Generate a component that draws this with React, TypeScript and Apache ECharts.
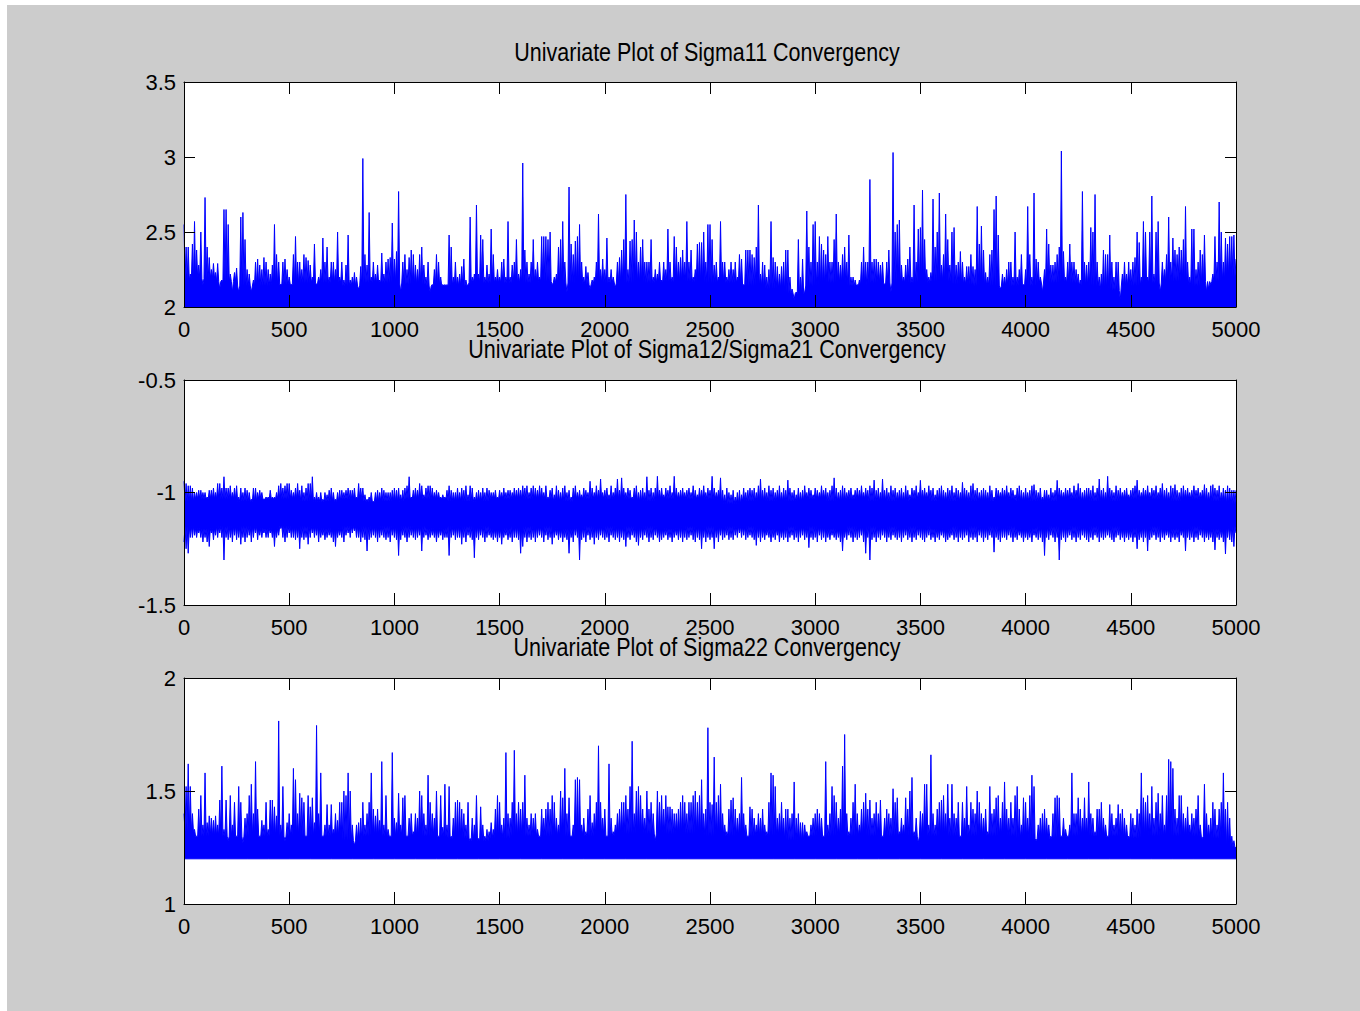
import React, { useEffect, useRef } from "react";
import * as echarts from "echarts";

// ---------------- data ----------------
const ITER_MAX = 5000;
const X_TICK_STEP = 500;
const Y_TICK_STEP = 0.5;

const titles = [
  "Univariate Plot of Sigma11 Convergency",
  "Univariate Plot of Sigma12/Sigma21 Convergency",
  "Univariate Plot of Sigma22 Convergency",
];
const yRange11 = [2, 3.5];
const yRange12 = [-1.5, -0.5];
const yRange22 = [1, 2];

// Sigma11: spike tops, one every 10 iterations (0..5000)
const sigma11Peaks = [
  2.55, 2.4, 2.4, 2.22, 2.42, 2.57, 2.38, 2.28, 2.5, 2.15,
  2.73, 2.4, 2.33, 2.25, 2.29, 2.23, 2.29, 2.12, 2.18, 2.65,
  2.65, 2.55, 2.22, 2.1, 2.23, 2.26, 2.1, 2.6, 2.63, 2.45,
  2.25, 2.22, 2.1, 2.18, 2.3, 2.32, 2.28, 2.25, 2.33, 2.3,
  2.25, 2.22, 2.28, 2.55, 2.35, 2.3, 2.15, 2.3, 2.32, 2.25,
  2.2, 2.15, 2.35, 2.47, 2.3, 2.3, 2.25, 2.35, 2.33, 2.31,
  2.28, 2.2, 2.42, 2.15, 2.2, 2.25, 2.46, 2.3, 2.4, 2.2,
  2.3, 2.3, 2.25, 2.5, 2.2, 2.3, 2.18, 2.28, 2.48, 2.18,
  2.2, 2.23, 2.2, 2.12, 2.27, 2.99, 2.35, 2.28, 2.63, 2.2,
  2.3, 2.22, 2.28, 2.18, 2.36, 2.22, 2.3, 2.32, 2.33, 2.56,
  2.32, 2.37, 2.77, 2.1, 2.3, 2.35, 2.25, 2.33, 2.38, 2.35,
  2.28, 2.25, 2.35, 2.4, 2.28, 2.2, 2.3, 2.1, 2.15, 2.25,
  2.35, 2.3, 2.2, 2.15, 2.15, 2.15, 2.48, 2.4, 2.2, 2.3,
  2.2, 2.22, 2.27, 2.32, 2.18, 2.15, 2.6, 2.2, 2.22, 2.68,
  2.22, 2.48, 2.45, 2.2, 2.28, 2.22, 2.52, 2.35, 2.2, 2.25,
  2.2, 2.3, 2.32, 2.2, 2.57, 2.2, 2.28, 2.3, 2.45, 2.22,
  2.25, 2.96, 2.38, 2.3, 2.22, 2.3, 2.45, 2.25, 2.3, 2.2,
  2.47, 2.47, 2.47, 2.45, 2.5, 2.15, 2.2, 2.22, 2.4, 2.45,
  2.57, 2.3, 2.1, 2.8, 2.42, 2.35, 2.44, 2.47, 2.55, 2.3,
  2.2, 2.27, 2.23, 2.12, 2.18, 2.2, 2.3, 2.62, 2.25, 2.32,
  2.25, 2.46, 2.2, 2.25, 2.2, 2.13, 2.3, 2.33, 2.38, 2.45,
  2.75, 2.25, 2.44, 2.45, 2.58, 2.5, 2.3, 2.4, 2.45, 2.3,
  2.3, 2.3, 2.45, 2.2, 2.25, 2.22, 2.3, 2.18, 2.3, 2.25,
  2.52, 2.3, 2.2, 2.47, 2.4, 2.3, 2.33, 2.38, 2.3, 2.57,
  2.3, 2.38, 2.2, 2.25, 2.42, 2.43, 2.43, 2.5, 2.3, 2.55,
  2.55, 2.45, 2.28, 2.3, 2.2, 2.57, 2.3, 2.3, 2.2, 2.25,
  2.3, 2.25, 2.3, 2.2, 2.35, 2.32, 2.15, 2.38, 2.38, 2.38,
  2.35, 2.33, 2.4, 2.68, 2.22, 2.3, 2.28, 2.2, 2.25, 2.57,
  2.33, 2.3, 2.27, 2.22, 2.27, 2.3, 2.38, 2.38, 2.2, 2.12,
  2.05, 2.1, 2.45, 2.2, 2.32, 2.1, 2.64, 2.4, 2.3, 2.55,
  2.57, 2.3, 2.47, 2.42, 2.38, 2.35, 2.47, 2.3, 2.3, 2.45,
  2.62, 2.3, 2.28, 2.35, 2.4, 2.3, 2.48, 2.2, 2.2, 2.18,
  2.15, 2.18, 2.3, 2.4, 2.3, 2.3, 2.85, 2.3, 2.32, 2.32,
  2.3, 2.28, 2.3, 2.15, 2.3, 2.38, 2.1, 3.03, 2.5, 2.55,
  2.58, 2.28, 2.2, 2.28, 2.32, 2.4, 2.2, 2.68, 2.3, 2.52,
  2.53, 2.78, 2.45, 2.25, 2.2, 2.23, 2.72, 2.4, 2.5, 2.76,
  2.28, 2.35, 2.62, 2.45, 2.28, 2.5, 2.53, 2.28, 2.3, 2.37,
  2.3, 2.2, 2.27, 2.27, 2.35, 2.27, 2.25, 2.67, 2.42, 2.54,
  2.38, 2.23, 2.2, 2.35, 2.38, 2.65, 2.74, 2.48, 2.12, 2.22,
  2.2, 2.25, 2.3, 2.3, 2.2, 2.5, 2.2, 2.25, 2.35, 2.15,
  2.25, 2.67, 2.35, 2.2, 2.76, 2.32, 2.3, 2.2, 2.1, 2.25,
  2.52, 2.42, 2.28, 2.28, 2.3, 2.35, 2.4, 3.04, 2.37, 2.2,
  2.3, 2.42, 2.3, 2.3, 2.25, 2.22, 2.18, 2.77, 2.3, 2.28,
  2.3, 2.53, 2.5, 2.75, 2.3, 2.2, 2.22, 2.38, 2.35, 2.35,
  2.48, 2.3, 2.2, 2.3, 2.3, 2.05, 2.22, 2.3, 2.22, 2.3,
  2.25, 2.3, 2.33, 2.5, 2.43, 2.2, 2.57, 2.5, 2.2, 2.5,
  2.74, 2.22, 2.5, 2.57, 2.1, 2.3, 2.25, 2.35, 2.6, 2.3,
  2.46, 2.38, 2.35, 2.4, 2.38, 2.45, 2.67, 2.3, 2.2, 2.52,
  2.52, 2.25, 2.3, 2.38, 2.35, 2.48, 2.1, 2.12, 2.15, 2.22,
  2.47, 2.3, 2.7, 2.5, 2.3, 2.46, 2.42, 2.47, 2.47, 2.48,
  2.32,
];
// Sigma11: top of the dense (solid) band, one every 100 iterations
const sigma11Core = [
  2.18, 2.19, 2.17, 2.14, 2.14, 2.15, 2.16, 2.16, 2.14, 2.16,
  2.16, 2.15, 2.14, 2.14, 2.16, 2.16, 2.16, 2.17, 2.16, 2.15,
  2.16, 2.16, 2.16, 2.17, 2.17, 2.16, 2.16, 2.14, 2.12, 2.09,
  2.14, 2.16, 2.14, 2.16, 2.16, 2.16, 2.17, 2.15, 2.14, 2.14,
  2.14, 2.16, 2.16, 2.14, 2.11, 2.14, 2.16, 2.17, 2.14, 2.17,
  2.2,
];

// Sigma12/Sigma21: upper and lower spike extremes, one every 10 iterations
const sigma12Upper = [
  -0.95, -0.96, -0.97, -0.97, -0.98, -1.0, -1.0, -0.99, -0.99, -1.0,
  -1.0, -1.02, -0.99, -0.99, -0.98, -1.0, -0.96, -0.96, -0.98, -0.93,
  -0.98, -0.98, -0.97, -1.0, -0.98, -0.97, -1.02, -0.98, -1.0, -0.98,
  -0.99, -1.0, -1.03, -0.98, -0.98, -1.0, -0.99, -1.0, -1.03, -1.02,
  -1.02, -0.99, -1.02, -1.02, -1.0, -0.97, -0.96, -0.98, -0.97, -0.96,
  -0.96, -0.99, -1.0, -0.98, -0.96, -0.99, -0.97, -1.0, -0.98, -0.96,
  -0.96, -0.93, -1.02, -1.0, -1.02, -1.0, -1.03, -1.0, -1.01, -0.99,
  -0.98, -1.0, -1.03, -1.0, -0.99, -0.99, -1.0, -0.99, -0.98, -0.99,
  -0.99, -0.98, -1.02, -0.96, -0.98, -0.98, -1.01, -1.03, -1.02, -1.0,
  -1.04, -1.0, -0.99, -1.0, -0.98, -0.99, -1.0, -1.0, -1.0, -0.99,
  -0.98, -0.99, -0.98, -1.01, -0.99, -0.98, -0.97, -0.93, -1.02, -0.99,
  -0.98, -0.99, -0.96, -0.97, -1.01, -0.98, -0.97, -0.97, -0.98, -1.0,
  -0.99, -1.0, -1.02, -1.01, -1.02, -0.99, -0.97, -0.99, -1.0, -1.0,
  -0.98, -1.0, -0.98, -0.99, -0.97, -1.01, -0.97, -0.98, -1.02, -1.0,
  -0.99, -1.0, -0.98, -1.0, -0.98, -0.99, -1.0, -1.0, -0.99, -1.02,
  -0.99, -1.0, -0.98, -1.0, -0.99, -0.99, -1.0, -0.98, -0.99, -0.98,
  -0.99, -0.97, -0.98, -0.97, -1.0, -0.98, -0.97, -0.98, -0.99, -0.97,
  -0.98, -1.0, -0.97, -1.02, -0.99, -0.98, -1.01, -0.97, -0.99, -1.0,
  -0.98, -0.97, -1.0, -0.99, -1.02, -0.98, -0.97, -1.0, -0.99, -1.01,
  -0.98, -0.99, -1.0, -0.95, -0.98, -1.0, -0.97, -0.99, -0.94, -1.0,
  -0.99, -0.98, -1.01, -0.97, -1.0, -0.98, -0.94, -0.99, -0.935, -0.98,
  -1.0, -0.98, -0.99, -1.02, -0.98, -0.97, -1.0, -0.99, -0.98, -1.0,
  -0.93, -0.99, -0.98, -1.0, -0.98, -0.928, -0.99, -0.98, -1.01, -0.98,
  -0.99, -0.97, -1.0, -0.928, -0.98, -1.0, -0.99, -0.98, -1.0, -0.99,
  -0.98, -1.0, -0.97, -0.99, -1.01, -0.98, -0.99, -0.97, -1.0, -0.98,
  -0.99, -0.928, -0.98, -1.0, -0.99, -0.935, -0.99, -1.01, -0.98, -1.0,
  -1.01, -0.99, -1.02, -1.0, -0.99, -1.01, -0.98, -1.0, -0.99, -0.98,
  -0.99, -0.98, -1.0, -0.97, -0.94, -0.99, -0.98, -1.0, -0.97, -0.99,
  -0.98, -1.0, -0.99, -0.97, -1.0, -0.98, -0.99, -0.945, -0.98, -1.0,
  -0.99, -1.01, -0.98, -1.0, -0.99, -0.97, -1.0, -0.98, -0.99, -1.01,
  -0.98, -0.99, -1.0, -0.97, -0.99, -0.98, -1.0, -0.99, -0.97, -0.935,
  -0.98, -1.0, -0.99, -0.97, -0.98, -1.0, -0.99, -0.98, -1.01, -0.99,
  -0.98, -0.99, -0.97, -1.0, -0.98, -0.99, -0.97, -0.98, -0.945, -0.99,
  -0.98, -1.0, -0.94, -0.99, -0.98, -1.0, -0.97, -0.99, -0.98, -1.0,
  -0.99, -0.98, -1.0, -0.97, -0.99, -1.01, -0.98, -0.99, -0.97, -1.0,
  -0.946, -0.99, -0.98, -1.0, -0.97, -0.99, -0.98, -1.01, -0.99, -0.98,
  -0.97, -0.99, -1.0, -0.98, -0.99, -0.97, -1.0, -0.98, -0.99, -1.0,
  -0.955, -0.98, -0.99, -1.0, -0.97, -0.96, -0.99, -0.98, -1.0, -0.99,
  -0.98, -0.99, -1.0, -0.97, -0.99, -1.02, -0.98, -0.99, -1.0, -0.98,
  -0.99, -0.97, -1.0, -0.98, -0.99, -1.01, -0.98, -0.97, -0.99, -1.0,
  -0.98, -1.0, -0.99, -0.97, -0.965, -0.99, -1.0, -0.98, -1.02, -0.99,
  -0.99, -1.01, -0.98, -1.0, -0.99, -0.946, -0.98, -0.99, -1.0, -0.98,
  -0.99, -0.98, -1.0, -0.97, -0.99, -0.96, -0.98, -1.0, -0.99, -0.98,
  -0.98, -0.99, -0.97, -1.0, -0.98, -0.94, -0.99, -0.98, -1.0, -0.928,
  -0.98, -0.99, -1.0, -0.97, -0.99, -0.98, -1.0, -0.99, -0.98, -1.01,
  -0.99, -0.98, -0.97, -0.945, -0.99, -1.0, -0.98, -0.99, -0.97, -1.0,
  -0.98, -0.99, -0.97, -1.0, -0.98, -0.96, -0.99, -0.98, -1.0, -0.97,
  -0.98, -0.965, -0.99, -1.0, -0.98, -0.97, -0.99, -0.98, -1.0, -0.99,
  -0.97, -0.99, -0.98, -1.0, -0.99, -0.965, -0.98, -1.0, -0.97, -0.965,
  -0.98, -0.99, -0.97, -1.0, -0.98, -0.99, -0.97, -0.98, -0.99, -0.99,
  -0.99,
];
const sigma12Lower = [
  -1.22, -1.25, -1.27, -1.2, -1.2, -1.19, -1.2, -1.18, -1.2, -1.22,
  -1.2, -1.22, -1.24, -1.18, -1.21, -1.19, -1.2, -1.18, -1.2, -1.3,
  -1.2, -1.21, -1.2, -1.22, -1.19, -1.21, -1.2, -1.23, -1.2, -1.22,
  -1.2, -1.19, -1.22, -1.2, -1.18, -1.21, -1.19, -1.2, -1.18, -1.2,
  -1.2, -1.18, -1.2, -1.24, -1.2, -1.19, -1.16, -1.2, -1.22, -1.2,
  -1.18, -1.2, -1.2, -1.21, -1.2, -1.25, -1.2, -1.21, -1.2, -1.23,
  -1.2, -1.18, -1.2, -1.19, -1.22, -1.2, -1.19, -1.21, -1.2, -1.19,
  -1.2, -1.22, -1.24, -1.2, -1.19, -1.2, -1.22, -1.19, -1.18, -1.2,
  -1.18, -1.17, -1.2, -1.2, -1.22, -1.2, -1.21, -1.26, -1.21, -1.2,
  -1.19, -1.2, -1.22, -1.2, -1.19, -1.2, -1.21, -1.2, -1.22, -1.19,
  -1.2, -1.21, -1.28, -1.21, -1.19, -1.2, -1.22, -1.2, -1.19, -1.2,
  -1.21, -1.2, -1.19, -1.26, -1.2, -1.19, -1.21, -1.2, -1.19, -1.2,
  -1.22, -1.2, -1.19, -1.21, -1.2, -1.2, -1.28, -1.2, -1.19, -1.21,
  -1.2, -1.2, -1.23, -1.2, -1.22, -1.19, -1.2, -1.21, -1.29, -1.2,
  -1.21, -1.19, -1.2, -1.22, -1.2, -1.19, -1.2, -1.21, -1.2, -1.22,
  -1.2, -1.23, -1.2, -1.19, -1.21, -1.2, -1.22, -1.2, -1.2, -1.21,
  -1.27, -1.24, -1.2, -1.22, -1.2, -1.21, -1.2, -1.22, -1.2, -1.19,
  -1.2, -1.22, -1.19, -1.21, -1.2, -1.23, -1.2, -1.19, -1.21, -1.2,
  -1.22, -1.2, -1.21, -1.27, -1.2, -1.22, -1.19, -1.2, -1.3, -1.21,
  -1.2, -1.22, -1.19, -1.21, -1.2, -1.23, -1.2, -1.21, -1.19, -1.2,
  -1.21, -1.2, -1.22, -1.19, -1.2, -1.21, -1.2, -1.22, -1.2, -1.21,
  -1.24, -1.2, -1.21, -1.19, -1.2, -1.22, -1.235, -1.2, -1.21, -1.19,
  -1.2, -1.22, -1.2, -1.21, -1.19, -1.2, -1.22, -1.21, -1.2, -1.19,
  -1.21, -1.2, -1.22, -1.2, -1.19, -1.21, -1.2, -1.22, -1.2, -1.21,
  -1.2, -1.19, -1.21, -1.22, -1.2, -1.21, -1.25, -1.2, -1.22, -1.2,
  -1.21, -1.2, -1.25, -1.2, -1.22, -1.19, -1.21, -1.2, -1.19, -1.21,
  -1.2, -1.21, -1.19, -1.2, -1.18, -1.2, -1.19, -1.21, -1.2, -1.19,
  -1.2, -1.21, -1.235, -1.2, -1.22, -1.2, -1.21, -1.19, -1.2, -1.22,
  -1.2, -1.21, -1.19, -1.22, -1.2, -1.21, -1.2, -1.22, -1.2, -1.19,
  -1.21, -1.2, -1.22, -1.2, -1.19, -1.21, -1.2, -1.245, -1.2, -1.21,
  -1.2, -1.22, -1.19, -1.21, -1.2, -1.22, -1.2, -1.21, -1.19, -1.2,
  -1.21, -1.2, -1.22, -1.26, -1.2, -1.21, -1.19, -1.2, -1.22, -1.2,
  -1.21, -1.2, -1.19, -1.22, -1.27, -1.2, -1.3, -1.21, -1.2, -1.22,
  -1.2, -1.21, -1.19, -1.2, -1.22, -1.2, -1.21, -1.19, -1.2, -1.21,
  -1.2, -1.22, -1.2, -1.19, -1.21, -1.2, -1.22, -1.2, -1.21, -1.19,
  -1.2, -1.21, -1.22, -1.2, -1.19, -1.21, -1.2, -1.22, -1.2, -1.21,
  -1.19, -1.2, -1.22, -1.21, -1.2, -1.19, -1.21, -1.2, -1.22, -1.2,
  -1.21, -1.2, -1.19, -1.22, -1.2, -1.21, -1.2, -1.22, -1.19, -1.2,
  -1.22, -1.2, -1.21, -1.19, -1.2, -1.265, -1.2, -1.21, -1.22, -1.2,
  -1.2, -1.21, -1.19, -1.2, -1.22, -1.2, -1.21, -1.19, -1.2, -1.22,
  -1.2, -1.21, -1.2, -1.22, -1.19, -1.2, -1.21, -1.2, -1.22, -1.28,
  -1.2, -1.21, -1.19, -1.2, -1.22, -1.2, -1.3, -1.21, -1.2, -1.22,
  -1.2, -1.19, -1.21, -1.2, -1.22, -1.2, -1.21, -1.19, -1.2, -1.21,
  -1.22, -1.2, -1.21, -1.19, -1.2, -1.22, -1.2, -1.21, -1.2, -1.19,
  -1.2, -1.21, -1.22, -1.2, -1.19, -1.21, -1.2, -1.22, -1.2, -1.21,
  -1.2, -1.22, -1.2, -1.25, -1.21, -1.2, -1.22, -1.2, -1.26, -1.21,
  -1.2, -1.19, -1.21, -1.2, -1.22, -1.2, -1.21, -1.19, -1.2, -1.22,
  -1.2, -1.21, -1.2, -1.22, -1.19, -1.2, -1.26, -1.2, -1.21, -1.2,
  -1.22, -1.2, -1.21, -1.19, -1.2, -1.22, -1.2, -1.21, -1.2, -1.22,
  -1.255, -1.2, -1.21, -1.2, -1.22, -1.273, -1.2, -1.21, -1.22, -1.24,
  -1.18,
];
// Sigma12/Sigma21: dense band edges, one every 100 iterations
const sigma12CoreTop = [
  -1.04, -1.03, -1.03, -1.04, -1.03, -1.03, -1.04, -1.04, -1.03, -1.04,
  -1.04, -1.03, -1.03, -1.04, -1.04, -1.03, -1.03, -1.03, -1.04, -1.03,
  -1.03, -1.03, -1.04, -1.03, -1.03, -1.03, -1.05, -1.04, -1.04, -1.04,
  -1.03, -1.04, -1.03, -1.04, -1.04, -1.03, -1.04, -1.04, -1.04, -1.03,
  -1.04, -1.04, -1.03, -1.04, -1.04, -1.03, -1.03, -1.04, -1.03, -1.04,
  -1.05,
];
const sigma12CoreBottom = [
  -1.15, -1.16, -1.15, -1.15, -1.16, -1.15, -1.15, -1.16, -1.15, -1.15,
  -1.15, -1.15, -1.16, -1.15, -1.15, -1.16, -1.15, -1.15, -1.16, -1.15,
  -1.15, -1.15, -1.15, -1.16, -1.15, -1.15, -1.15, -1.15, -1.16, -1.15,
  -1.15, -1.16, -1.15, -1.15, -1.15, -1.15, -1.16, -1.15, -1.15, -1.15,
  -1.16, -1.15, -1.15, -1.15, -1.15, -1.16, -1.15, -1.16, -1.15, -1.16,
  -1.15,
];

// Sigma22: spike tops, one every 10 iterations
const sigma22Peaks = [
  1.4, 1.52, 1.62, 1.52, 1.4, 1.33, 1.3, 1.42, 1.48, 1.35,
  1.58, 1.36, 1.39, 1.38, 1.37, 1.39, 1.35, 1.46, 1.61, 1.33,
  1.46, 1.28, 1.48, 1.35, 1.45, 1.3, 1.52, 1.45, 1.27, 1.38,
  1.4, 1.48, 1.53, 1.4, 1.63, 1.42, 1.3, 1.37, 1.35, 1.45,
  1.33, 1.46, 1.46, 1.43, 1.39, 1.81, 1.35, 1.52, 1.28, 1.36,
  1.4, 1.35, 1.6, 1.55, 1.4, 1.49, 1.47, 1.45, 1.3, 1.48,
  1.43, 1.47, 1.36, 1.79, 1.4, 1.58, 1.3, 1.35, 1.44, 1.35,
  1.44, 1.33, 1.4, 1.37, 1.45, 1.45, 1.5, 1.48, 1.58, 1.5,
  1.35, 1.26, 1.35, 1.36, 1.38, 1.45, 1.35, 1.4, 1.45, 1.58,
  1.42, 1.39, 1.42, 1.37, 1.63, 1.35, 1.48, 1.33, 1.3, 1.67,
  1.38, 1.36, 1.49, 1.35, 1.47, 1.48, 1.3, 1.38, 1.4, 1.32,
  1.4, 1.38, 1.5, 1.48, 1.4, 1.35, 1.57, 1.45, 1.4, 1.38,
  1.5, 1.3, 1.48, 1.34, 1.53, 1.35, 1.52, 1.3, 1.38, 1.45,
  1.46, 1.45, 1.42, 1.4, 1.35, 1.45, 1.29, 1.38, 1.35, 1.48,
  1.29, 1.43, 1.35, 1.3, 1.33, 1.32, 1.36, 1.33, 1.42, 1.48,
  1.45, 1.35, 1.38, 1.67, 1.4, 1.38, 1.45, 1.68, 1.4, 1.45,
  1.42, 1.45, 1.57, 1.38, 1.35, 1.4, 1.38, 1.4, 1.33, 1.3,
  1.42, 1.38, 1.42, 1.45, 1.42, 1.48, 1.45, 1.38, 1.35, 1.5,
  1.47, 1.6, 1.4, 1.47, 1.3, 1.35, 1.55, 1.56, 1.55, 1.35,
  1.38, 1.32, 1.42, 1.48, 1.36, 1.4, 1.45, 1.7, 1.45, 1.38,
  1.42, 1.3, 1.62, 1.38, 1.32, 1.35, 1.4, 1.42, 1.45, 1.45,
  1.48, 1.42, 1.52, 1.72, 1.4, 1.5, 1.52, 1.48, 1.42, 1.38,
  1.5, 1.42, 1.45, 1.4, 1.28, 1.5, 1.45, 1.48, 1.42, 1.48,
  1.43, 1.43, 1.42, 1.4, 1.4, 1.42, 1.45, 1.48, 1.45, 1.4,
  1.45, 1.45, 1.48, 1.5, 1.45, 1.48, 1.55, 1.4, 1.42, 1.78,
  1.45, 1.44, 1.65, 1.45, 1.48, 1.53, 1.4, 1.35, 1.32, 1.42,
  1.46, 1.47, 1.42, 1.38, 1.4, 1.56, 1.4, 1.35, 1.3, 1.43,
  1.42, 1.38, 1.35, 1.4, 1.38, 1.42, 1.35, 1.32, 1.45, 1.58,
  1.57, 1.52, 1.38, 1.4, 1.45, 1.38, 1.42, 1.42, 1.38, 1.4,
  1.54, 1.38, 1.4, 1.36, 1.36, 1.35, 1.32, 1.3, 1.35, 1.38,
  1.4, 1.42, 1.4, 1.38, 1.3, 1.63, 1.35, 1.4, 1.52, 1.48,
  1.45, 1.38, 1.42, 1.61, 1.75, 1.4, 1.32, 1.38, 1.45, 1.53,
  1.4, 1.35, 1.42, 1.45, 1.49, 1.42, 1.46, 1.38, 1.4, 1.45,
  1.4, 1.46, 1.3, 1.38, 1.42, 1.4, 1.38, 1.51, 1.45, 1.47,
  1.32, 1.38, 1.35, 1.47, 1.42, 1.5, 1.56, 1.32, 1.38, 1.27,
  1.41, 1.4, 1.53, 1.53, 1.35, 1.66, 1.4, 1.35, 1.42, 1.45,
  1.46, 1.48, 1.4, 1.53, 1.38, 1.53, 1.4, 1.38, 1.45, 1.3,
  1.45, 1.38, 1.52, 1.35, 1.45, 1.42, 1.4, 1.5, 1.45, 1.4,
  1.38, 1.42, 1.32, 1.52, 1.4, 1.42, 1.47, 1.48, 1.38, 1.45,
  1.54, 1.42, 1.38, 1.45, 1.38, 1.48, 1.52, 1.42, 1.35, 1.47,
  1.45, 1.38, 1.48, 1.57, 1.52, 1.28, 1.35, 1.38, 1.4, 1.42,
  1.38, 1.35, 1.3, 1.4, 1.47, 1.48, 1.47, 1.3, 1.38, 1.33,
  1.3, 1.35, 1.58, 1.4, 1.4, 1.47, 1.42, 1.38, 1.47, 1.38,
  1.54, 1.4, 1.38, 1.32, 1.42, 1.42, 1.45, 1.38, 1.35, 1.3,
  1.44, 1.4, 1.35, 1.38, 1.44, 1.4, 1.42, 1.38, 1.35, 1.3,
  1.4, 1.38, 1.35, 1.42, 1.4, 1.58, 1.47, 1.45, 1.48, 1.4,
  1.52, 1.38, 1.45, 1.49, 1.4, 1.48, 1.35, 1.48, 1.64, 1.63,
  1.6, 1.42, 1.38, 1.48, 1.48, 1.4, 1.38, 1.43, 1.35, 1.4,
  1.38, 1.42, 1.48, 1.35, 1.29, 1.53, 1.4, 1.35, 1.38, 1.45,
  1.42, 1.35, 1.42, 1.45, 1.58, 1.42, 1.45, 1.38, 1.3, 1.28,
  1.25,
];
// Sigma22: floor and top of the dense band, one every 100 iterations
const sigma22Floor = [
  1.2, 1.2, 1.2, 1.2, 1.2, 1.2, 1.2, 1.2, 1.2, 1.2,
  1.2, 1.2, 1.2, 1.2, 1.2, 1.2, 1.2, 1.2, 1.2, 1.2,
  1.2, 1.2, 1.2, 1.2, 1.2, 1.2, 1.2, 1.2, 1.2, 1.2,
  1.2, 1.2, 1.2, 1.2, 1.2, 1.2, 1.2, 1.2, 1.2, 1.2,
  1.2, 1.2, 1.2, 1.2, 1.2, 1.2, 1.2, 1.2, 1.2, 1.2,
  1.2,
];
const sigma22CoreTop = [
  1.32, 1.3, 1.3, 1.3, 1.3, 1.3, 1.3, 1.3, 1.28, 1.3,
  1.3, 1.3, 1.3, 1.29, 1.28, 1.29, 1.3, 1.3, 1.3, 1.3,
  1.3, 1.31, 1.31, 1.31, 1.31, 1.3, 1.3, 1.3, 1.3, 1.28,
  1.3, 1.3, 1.3, 1.3, 1.3, 1.3, 1.3, 1.3, 1.3, 1.3,
  1.29, 1.29, 1.3, 1.3, 1.3, 1.29, 1.3, 1.3, 1.3, 1.29,
  1.25,
];

// ---------------- styling ----------------
const BLUE = "#0000ff";
const WHITE = "#ffffff";
const LABEL_FONT = "'Liberation Sans', Arial, sans-serif";
const TITLE_FONT = "'Liberation Sans', Arial, sans-serif";
const GRID_LEFT = 177;
const GRID_WIDTH = 1052;
const GRIDS = [
  { top: 77, height: 225 },
  { top: 375, height: 225 },
  { top: 673, height: 226 },
];
const TITLE_TOPS = [35, 332, 630];
const TITLE_X = GRID_LEFT + GRID_WIDTH / 2 - 3;

// ---------------- helpers ----------------
// Trace drawn as it is plotted: each read spike top, with the trace returning
// to the dense band's edge in between.
const zigzag = (peaks: number[], band: number[]) => {
  const n = peaks.length;
  const step = ITER_MAX / (n - 1);
  const out: number[][] = [];
  for (let i = 0; i < n; i++) {
    out.push([i * step, peaks[i]]);
    if (i < n - 1) {
      const j = Math.round(((i + 0.5) * (band.length - 1)) / (n - 1));
      out.push([i * step + step / 2, band[j]]);
    }
  }
  return out;
};
const coarse = (arr: number[]) =>
  arr.map((v, i) => [(i * ITER_MAX) / (arr.length - 1), v]);

const makeXAxis = (grid: number, position: "bottom" | "top") => ({
  type: "value",
  gridIndex: grid,
  position,
  min: 0,
  max: ITER_MAX,
  interval: X_TICK_STEP,
  axisLine: { show: true, onZero: false, lineStyle: { color: "#000", width: 1 } },
  axisTick: { show: true, inside: true, length: 12, lineStyle: { color: "#000", width: 1 } },
  axisLabel:
    position === "bottom"
      ? { show: true, color: "#000", fontFamily: LABEL_FONT, fontSize: 22, margin: 11, formatter: (v: number) => String(v) }
      : { show: false },
  splitLine: { show: false },
  z: 10,
});

const makeYAxis = (grid: number, position: "left" | "right", range: number[]) => ({
  type: "value",
  gridIndex: grid,
  position,
  min: range[0],
  max: range[1],
  interval: Y_TICK_STEP,
  axisLine: { show: true, onZero: false, lineStyle: { color: "#000", width: 1 } },
  axisTick: { show: true, inside: true, length: 11, lineStyle: { color: "#000", width: 1 } },
  axisLabel:
    position === "left"
      ? { show: true, color: "#000", fontFamily: LABEL_FONT, fontSize: 22, margin: 8, formatter: (v: number) => String(v) }
      : { show: false },
  splitLine: { show: false },
  z: 10,
});

const trace = (xi: number, data: number[][], fill: string, stroke: string, z: number) => ({
  type: "line",
  xAxisIndex: xi,
  yAxisIndex: xi,
  data,
  symbol: "none",
  silent: true,
  smooth: false,
  z,
  lineStyle: { color: stroke, width: 1 },
  areaStyle: { color: fill, opacity: 1, origin: "start" },
});

export default function App() {
  const ref = useRef<HTMLDivElement>(null);

  useEffect(() => {
    if (!ref.current) return;
    const chart = echarts.init(ref.current, null, { renderer: "svg" });

    const option: any = {
      animation: false,
      backgroundColor: "#cccccc",
      grid: GRIDS.map((g) => ({
        left: GRID_LEFT,
        width: GRID_WIDTH,
        top: g.top,
        height: g.height,
        show: true,
        backgroundColor: WHITE,
        borderWidth: 0,
      })),
      xAxis: [0, 1, 2].flatMap((g) => [makeXAxis(g, "bottom"), makeXAxis(g, "top")]),
      yAxis: [
        makeYAxis(0, "left", yRange11),
        makeYAxis(0, "right", yRange11),
        makeYAxis(1, "left", yRange12),
        makeYAxis(1, "right", yRange12),
        makeYAxis(2, "left", yRange22),
        makeYAxis(2, "right", yRange22),
      ],
      graphic: titles.map((t, i) => ({
        type: "text",
        x: TITLE_X,
        y: TITLE_TOPS[i],
        scaleX: 0.86,
        silent: true,
        style: {
          text: t,
          fill: "#000",
          fontFamily: TITLE_FONT,
          fontSize: 25,
          textAlign: "center",
          textVerticalAlign: "top",
        },
      })),
      series: [
        // Sigma11: spikes above a dense band that sits on the axis floor
        trace(0, zigzag(sigma11Peaks, sigma11Core), BLUE, BLUE, 2),
        // Sigma12/Sigma21: blue under the upper trace, then the area under the
        // lower trace is cleared back to white
        trace(2, zigzag(sigma12Upper, sigma12CoreTop), BLUE, BLUE, 2),
        trace(2, zigzag(sigma12Lower, sigma12CoreBottom), WHITE, BLUE, 3),
        // Sigma22: blue under the trace, white below its floor
        trace(4, zigzag(sigma22Peaks, sigma22CoreTop), BLUE, BLUE, 2),
        trace(4, coarse(sigma22Floor), WHITE, BLUE, 3),
      ],
    };

    chart.setOption(option);
    return () => chart.dispose();
  }, []);

  return (
    <div
      style={{
        position: "absolute",
        left: 0,
        top: 0,
        width: 1360,
        height: 1011,
        background: "#ffffff",
      }}
    >
      <div
        ref={ref}
        style={{ position: "absolute", left: 7, top: 5, width: 1353, height: 1006 }}
      />
    </div>
  );
}
